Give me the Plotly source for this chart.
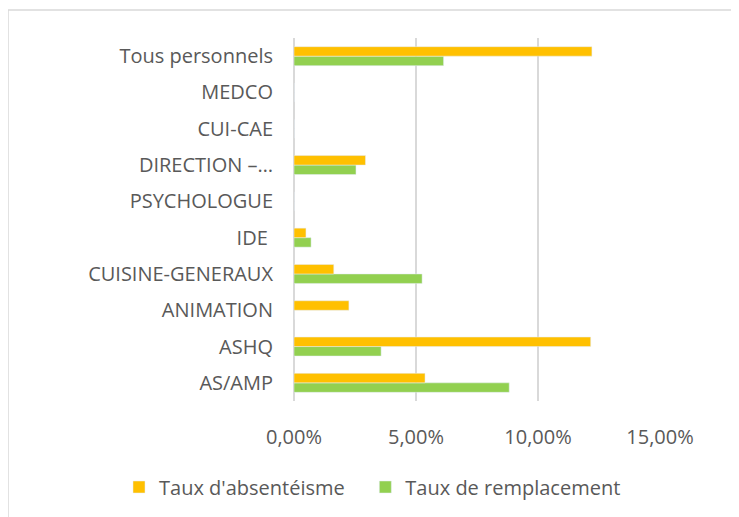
import plotly.graph_objects as go

categories = ["AS/AMP", "ASHQ", "ANIMATION", "CUISINE-GENERAUX", "IDE\u00a0",
              "PSYCHOLOGUE", "DIRECTION –…", "CUI-CAE", "MEDCO", "Tous personnels"]
absenteisme = [0.0537, 0.1216, 0.0225, 0.0163, 0.0049, 0.0, 0.0293, 0.0, 0.0, 0.1221]
remplacement = [0.0882, 0.0357, 0.0, 0.0525, 0.0070, 0.0, 0.0254, 0.0, 0.0, 0.0613]
series_names = ["Taux d'absentéisme", "Taux de remplacement"]
x_ticks = [0, 0.05, 0.10, 0.15]
x_tick_labels = ["0,00%", "5,00%", "10,00%", "15,00%"]

FONT = "Open Sans"
TXT = "#595959"
GRID = "#D9D9D9"

L, T, PW, PH = 286, 30, 366, 363
W, H = 731, 509

fig = go.Figure()
fig.add_trace(go.Bar(y=categories, x=remplacement, orientation="h",
                     name=series_names[1], marker_color="#92D050",
                     legendrank=2))
fig.add_trace(go.Bar(y=categories, x=absenteisme, orientation="h",
                     name=series_names[0] + "\u00a0\u00a0\u00a0", marker_color="#FFC000",
                     legendrank=1))

fig.update_layout(
    width=W, height=H,
    margin=dict(l=L, r=W - L - PW, t=T, b=H - T - PH, autoexpand=False),
    paper_bgcolor="white", plot_bgcolor="white",
    barmode="group", bargap=0.477, bargroupgap=0,
    font=dict(family=FONT, size=20, color=TXT),
    showlegend=True,
    legend=dict(orientation="h", x=(111 - L) / PW, xanchor="left",
                y=(T + PH - 479) / PH, yanchor="middle",
                font=dict(family=FONT, size=20, color=TXT),
                itemwidth=30, traceorder="normal"),
    xaxis=dict(range=[0, 0.15], tickvals=x_ticks, ticktext=x_tick_labels,
               showgrid=True, gridcolor=GRID, gridwidth=1.5,
               zeroline=True, zerolinecolor=GRID, zerolinewidth=1.5,
               showline=False, ticks="", ticklabelstandoff=22, automargin=False,
               tickfont=dict(family=FONT, size=20, color=TXT), fixedrange=True),
    yaxis=dict(type="category", categoryorder="array", categoryarray=categories,
               showgrid=False, zeroline=False, showline=False, ticks="",
               ticklabelstandoff=20, automargin=False,
               tickfont=dict(family=FONT, size=20, color=TXT), fixedrange=True),
    shapes=[dict(type="rect", xref="paper", yref="paper",
                 x0=(0 - L) / PW, x1=(760 - L) / PW,
                 y0=(T + PH - 540) / PH, y1=1 + (T - 2) / PH,
                 line=dict(color=GRID, width=1.5), fillcolor="rgba(0,0,0,0)",
                 layer="below")],
)

fig.write_html("out.html")
